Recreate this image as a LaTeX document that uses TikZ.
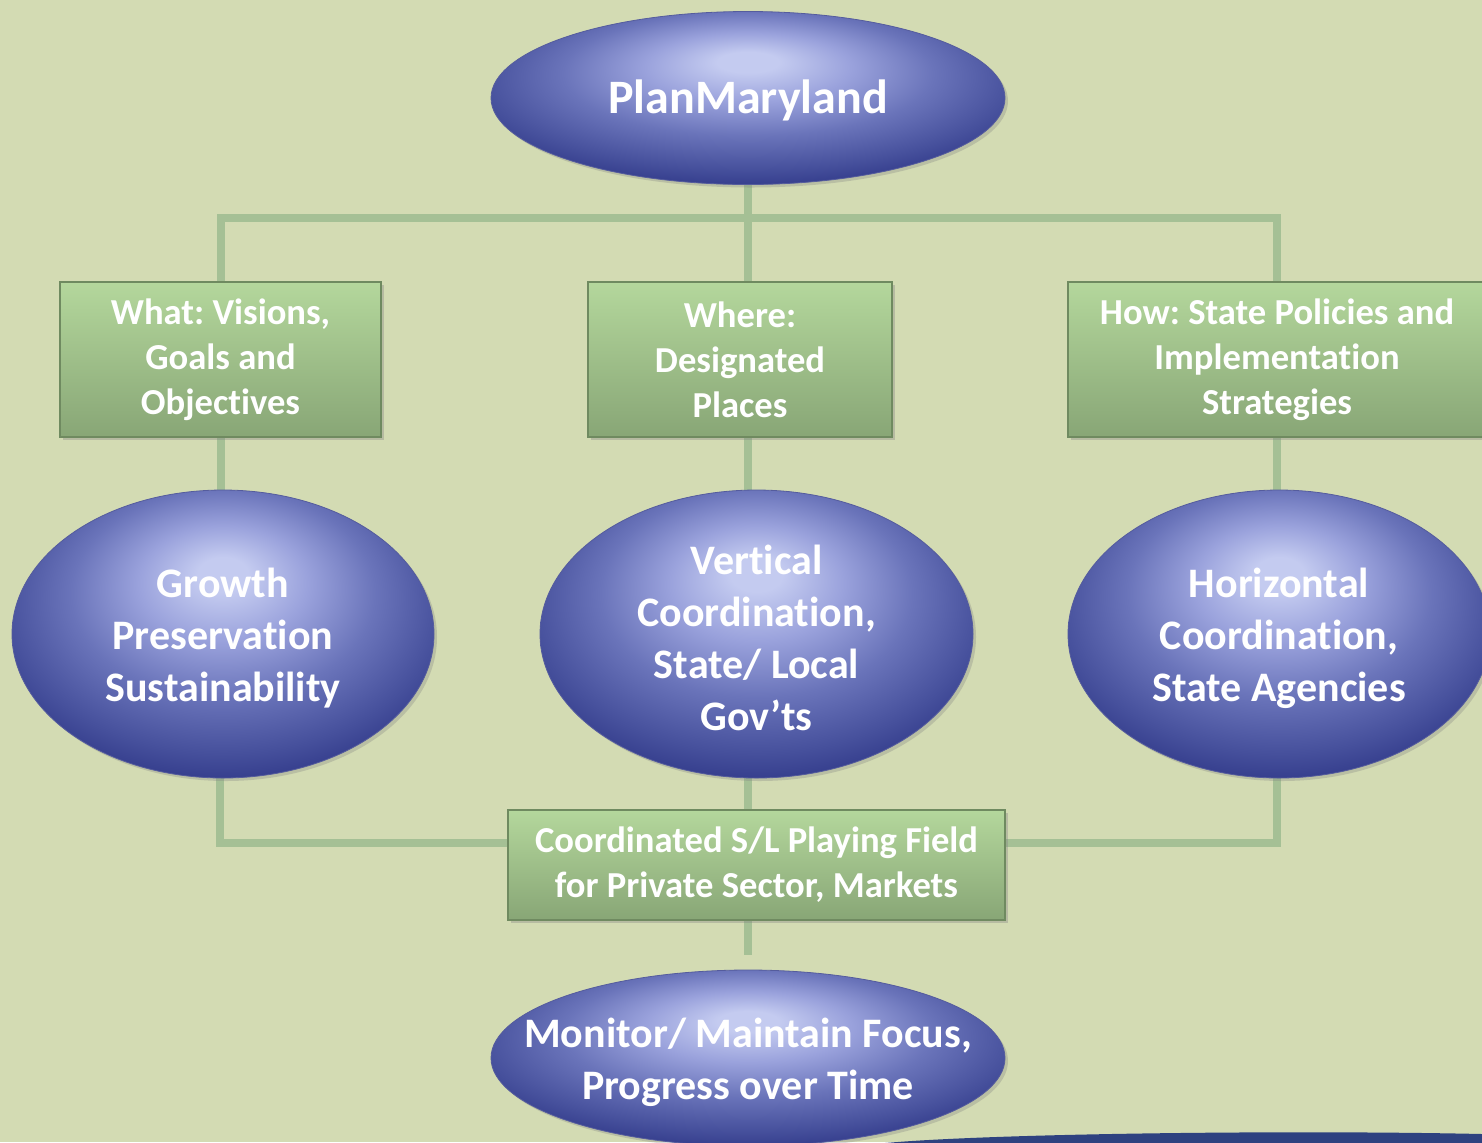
\documentclass[tikz,border=0pt]{standalone}
\usepackage{fontspec}
\setmainfont{Carlito}[Ligatures=NoCommon]
\usetikzlibrary{shapes.geometric,shadows}
\definecolor{bgcol}{HTML}{D3DBB3}
\definecolor{conncol}{HTML}{A5C095}
\definecolor{boxtop}{HTML}{B4D79C}
\definecolor{boxbot}{HTML}{88A676}
\definecolor{boxedge}{HTML}{6F8A60}
\definecolor{ballA}{HTML}{C4CBF0}
\definecolor{ballB}{HTML}{9AA2DC}
\definecolor{ballC}{HTML}{6A74BA}
\definecolor{ballD}{HTML}{46509C}
\definecolor{ballE}{HTML}{2B3384}
\definecolor{bandcol}{HTML}{2E4280}
\pgfdeclareradialshading{ballshade}{\pgfpoint{0bp}{11bp}}{color(0bp)=(ballA); color(3bp)=(ballA); color(10bp)=(ballB); color(18bp)=(ballC); color(26bp)=(ballD); color(32bp)=(ballE); color(50bp)=(ballE)}
\pgfdeclarelayer{bgl}
\pgfdeclarelayer{lines}
\pgfsetlayers{bgl,lines,main}
\tikzset{
  conn/.style={draw=conncol, line width=4pt},
  greenbox/.style={rectangle, top color=boxtop, bottom color=boxbot, draw=boxedge, line width=0.8pt,
    text=white, font=\bfseries\fontsize{18.3}{22.5}\selectfont, align=center, inner sep=0pt,
    drop shadow={opacity=0.35, shadow xshift=1.5pt, shadow yshift=-1.5pt}},
  ball/.style={ellipse, shading=ballshade, draw=ballE!80, line width=0.4pt, inner sep=0pt,
    drop shadow={opacity=0.3, shadow xshift=1.5pt, shadow yshift=-1.5pt}},
  balltext/.style={text=white, font=\bfseries\fontsize{21}{26}\selectfont, align=center, inner sep=0pt, yshift=-2pt}
}
\begin{document}
\frenchspacing
\begin{tikzpicture}[x=0.5pt, y=-0.5pt]
\useasboundingbox (0,0) rectangle (1482,1142);
\begin{pgfonlayer}{bgl}
\fill[bgcol] (0,0) rectangle (1482,1142);
\end{pgfonlayer}

% ellipses
\node[ball, minimum width=257pt, minimum height=86.5pt,
  label={[balltext, font=\bfseries\fontsize{24}{28}\selectfont, yshift=1pt]center:PlanMaryland}] (top) at (748,98) {};
\node[ball, minimum width=211pt, minimum height=144pt,
  label={[balltext]center:Growth\\Preservation\\Sustainability}] (growth) at (223,634) {};
\node[ball, minimum width=216.5pt, minimum height=144pt,
  label={[balltext]center:Vertical\\Coordination,\\State/ Local\\Gov’ts}] (vert) at (756.5,634) {};
\node[ball, minimum width=211pt, minimum height=144pt,
  label={[balltext]center:Horizontal\\Coordination,\\State Agencies}] (horiz) at (1279,634) {};
\node[ball, minimum width=257pt, minimum height=88pt,
  label={[balltext]center:Monitor/ Maintain Focus,\\Progress over Time}] (mon) at (748,1058) {};

% boxes
\node[greenbox, minimum width=160.5pt, minimum height=77.5pt] (what) at (220.5,359.5) {What: Visions,\\Goals and\\Objectives};
\node[greenbox, minimum width=152pt, minimum height=77.5pt] (where) at (740,359.5) {Where:\\Designated\\Places};
\node[greenbox, minimum width=209pt, minimum height=77.5pt] (how) at (1277,359.5) {How: State Policies and\\Implementation\\Strategies};
\node[greenbox, minimum width=248.5pt, minimum height=55pt] (field) at (756.5,865) {Coordinated S/L Playing Field\\for Private Sector, Markets};

% junctions
\coordinate (jt) at (748,218);
\coordinate (jl) at (220,843);
\coordinate (jr) at (1277,843);
\coordinate (fend) at (748,955);

\begin{pgfonlayer}{lines}
\draw[conn] (top.south) -- (top.south |- where.north);
\draw[conn] (what.north) |- (jt) -| (how.north);
\draw[conn] (what.south) -- (what.south |- growth.north);
\draw[conn] (where.south -| top.south) -- (vert.north -| top.south);
\draw[conn] (how.south) -- (how.south |- horiz.north);
\draw[conn] (growth.south -| jl) -- (jl) -- (jl -| field.west);
\draw[conn] (horiz.south -| jr) -- (jr) -- (jr -| field.east);
\draw[conn] (vert.south -| top.south) -- (field.north -| top.south);
\draw[conn] (field.south -| fend) -- (fend);
\fill[bandcol] (885,1143) .. controls (1000,1133) and (1300,1130) .. (1482,1134) -- (1482,1143) -- cycle;
\end{pgfonlayer}
\end{tikzpicture}
\end{document}
